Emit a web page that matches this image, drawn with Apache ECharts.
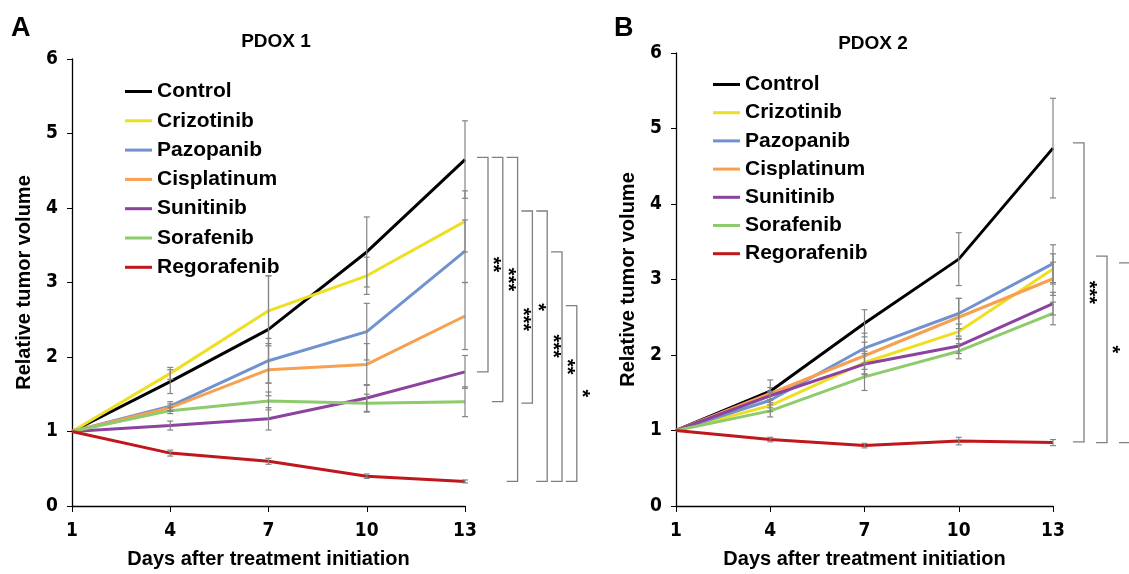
<!DOCTYPE html>
<html>
<head>
<meta charset="utf-8">
<script src="https://cdn.jsdelivr.net/npm/echarts@6/dist/echarts.min.js"></script>
<style>
  html, body { margin: 0; padding: 0; background: #fff; }
  #main { width: 1129px; height: 574px; }
</style>
</head>
<body>
<div id="main"></div>
<script>
// days after treatment initiation
var days = ["1", "4", "7", "10", "13"];
var yTicks = [0, 1, 2, 3, 4, 5, 6];
var groups = ["Control", "Crizotinib", "Pazopanib", "Cisplatinum", "Sunitinib", "Sorafenib", "Regorafenib"];
var colors = ["#000000", "#EEDF22", "#7093CF", "#F7A04F", "#8C429E", "#8DCB6C", "#C0171C"];

// PDOX 1 means
var p1Control     = [1, 1.67, 2.37, 3.41, 4.65];
var p1Crizotinib  = [1, 1.78, 2.62, 3.09, 3.82];
var p1Pazopanib   = [1, 1.34, 1.95, 2.34, 3.42];
var p1Cisplatinum = [1, 1.32, 1.83, 1.90, 2.55];
var p1Sunitinib   = [1, 1.08, 1.17, 1.45, 1.80];
var p1Sorafenib   = [1, 1.28, 1.41, 1.38, 1.40];
var p1Regorafenib = [1, 0.71, 0.60, 0.40, 0.33];
// PDOX 1 error bars
var p1ControlErr     = [0, 0.16, 0.72, 0.47, 0.52];
var p1CrizotinibErr  = [0, 0.08, 0.47, 0.25, 0.41];
var p1PazopanibErr   = [0, 0.06, 0.30, 0.38, 0.42];
var p1CisplatinumErr = [0, 0.05, 0.35, 0.28, 0.45];
var p1SunitinibErr   = [0, 0.06, 0.15, 0.18, 0.22];
var p1SorafenibErr   = [0, 0.04, 0.12, 0.12, 0.20];
var p1RegorafenibErr = [0, 0.04, 0.04, 0.03, 0.02];

// PDOX 2 means
var p2Control     = [1, 1.52, 2.42, 3.27, 4.74];
var p2Crizotinib  = [1, 1.33, 1.90, 2.31, 3.14];
var p2Pazopanib   = [1, 1.40, 2.09, 2.55, 3.21];
var p2Cisplatinum = [1, 1.49, 1.99, 2.50, 3.01];
var p2Sunitinib   = [1, 1.46, 1.88, 2.12, 2.68];
var p2Sorafenib   = [1, 1.26, 1.71, 2.05, 2.55];
var p2Regorafenib = [1, 0.88, 0.80, 0.86, 0.84];
// PDOX 2 error bars
var p2ControlErr     = [0, 0.15, 0.18, 0.35, 0.66];
var p2CrizotinibErr  = [0, 0.08, 0.15, 0.10, 0.20];
var p2PazopanibErr   = [0, 0.10, 0.20, 0.20, 0.25];
var p2CisplatinumErr = [0, 0.08, 0.18, 0.25, 0.22];
var p2SunitinibErr   = [0, 0.06, 0.14, 0.10, 0.15];
var p2SorafenibErr   = [0, 0.08, 0.18, 0.10, 0.15];
var p2RegorafenibErr = [0, 0.03, 0.03, 0.05, 0.04];

// significance brackets (day 13)
var p1BracketTop    = [4.68, 4.68, 4.68, 3.96, 3.96, 3.41, 2.69];
var p1BracketBottom = [1.80, 1.40, 0.33, 1.38, 0.33, 0.33, 0.33];
var p1BracketLabels = ["**", "***", "***", "*", "***", "**", "*"];
var p2BracketTop    = [4.81, 3.31, 3.22];
var p2BracketBottom = [0.85, 0.84, 0.84];
var p2BracketLabels = ["***", "*", "*"];

var p1Means = [p1Control, p1Crizotinib, p1Pazopanib, p1Cisplatinum, p1Sunitinib, p1Sorafenib, p1Regorafenib];
var p1Errs = [p1ControlErr, p1CrizotinibErr, p1PazopanibErr, p1CisplatinumErr, p1SunitinibErr, p1SorafenibErr, p1RegorafenibErr];
var p2Means = [p2Control, p2Crizotinib, p2Pazopanib, p2Cisplatinum, p2Sunitinib, p2Sorafenib, p2Regorafenib];
var p2Errs = [p2ControlErr, p2CrizotinibErr, p2PazopanibErr, p2CisplatinumErr, p2SunitinibErr, p2SorafenibErr, p2RegorafenibErr];

var myChart = echarts.init(document.getElementById("main"));

var narrow = "'DejaVu Sans Condensed', 'Liberation Sans Narrow', Arial, sans-serif";
var sans = "'Liberation Sans', Arial, sans-serif";

function xAxisOf(gi) {
  return {
    type: "category", gridIndex: gi, data: days, boundaryGap: false,
    name: "Days after treatment initiation", nameLocation: "middle", nameGap: 43,
    nameTextStyle: { fontFamily: sans, fontWeight: "bold", fontSize: 20, color: "#000" },
    axisLine: { lineStyle: { color: "#000", width: 1.3 } },
    axisTick: { alignWithLabel: true, length: 6, lineStyle: { color: "#000" } },
    axisLabel: { fontFamily: narrow, fontWeight: "bold", fontSize: 19, color: "#000", margin: 16 },
    splitLine: { show: false }
  };
}
function yAxisOf(gi) {
  return {
    type: "value", gridIndex: gi, min: 0, max: 6, interval: 1,
    name: "Relative tumor volume", nameLocation: "middle", nameGap: 38, nameRotate: 90,
    nameTextStyle: { fontFamily: sans, fontWeight: "bold", fontSize: 20, color: "#000" },
    axisLine: { show: true, lineStyle: { color: "#000", width: 1.3 } },
    axisTick: { show: true, length: 5, lineStyle: { color: "#000" } },
    axisLabel: { fontFamily: narrow, fontWeight: "bold", fontSize: 19, color: "#000", margin: 14,
      formatter: function (v) { return yTicks.indexOf(v) >= 0 ? String(v) : ""; } },
    splitLine: { show: false }
  };
}

function errorSeries(gi, means, errs) {
  var data = [];
  means.forEach(function (m, s) {
    m.forEach(function (v, i) {
      if (errs[s][i] > 0) data.push([i, v - errs[s][i], v + errs[s][i]]);
    });
  });
  return {
    type: "custom", xAxisIndex: gi, yAxisIndex: gi, z: 5, silent: true,
    data: data,
    renderItem: function (params, api) {
      var x = api.value(0);
      var top = api.coord([x, api.value(2)]);
      var bot = api.coord([x, api.value(1)]);
      var st = { stroke: "#858585", lineWidth: 1.2 };
      return {
        type: "group",
        children: [
          { type: "line", shape: { x1: top[0], y1: top[1], x2: bot[0], y2: bot[1] }, style: st },
          { type: "line", shape: { x1: top[0] - 3, y1: top[1], x2: top[0] + 3, y2: top[1] }, style: st },
          { type: "line", shape: { x1: bot[0] - 3, y1: bot[1], x2: bot[0] + 3, y2: bot[1] }, style: st }
        ]
      };
    }
  };
}

function bracketSeries(gi, tops, bots, labels, startOff, step) {
  return {
    type: "custom", xAxisIndex: gi, yAxisIndex: gi, z: 5, silent: true, clip: false,
    data: tops.map(function (t, i) { return [days.length - 1, t, bots[i]]; }),
    renderItem: function (params, api) {
      var i = params.dataIndex;
      var right = api.coord([api.value(0), 0])[0];
      var x0 = right + startOff + i * step;
      var x1 = x0 + 11;
      var yT = api.coord([api.value(0), api.value(1)])[1];
      var yB = api.coord([api.value(0), api.value(2)])[1];
      return {
        type: "group",
        children: [
          { type: "polyline", shape: { points: [[x0, yT], [x1, yT], [x1, yB], [x0, yB]] },
            style: { stroke: "#7f7f7f", lineWidth: 1.3, fill: null } },
          { type: "text", x: x1 + 5, y: (yT + yB) / 2, rotation: -Math.PI / 2,
            style: { text: labels[i], fill: "#000", font: "bold 20px " + sans, align: "center", verticalAlign: "middle" } }
        ]
      };
    }
  };
}

var series = [];
[p1Means, p2Means].forEach(function (means, gi) {
  means.forEach(function (vals, s) {
    series.push({
      type: "line", name: groups[s], data: vals, xAxisIndex: gi, yAxisIndex: gi,
      symbol: "none", lineStyle: { color: colors[s], width: 3 }, itemStyle: { color: colors[s] }, z: 3
    });
  });
});
series.push(errorSeries(0, p1Means, p1Errs));
series.push(errorSeries(1, p2Means, p2Errs));
series.push(bracketSeries(0, p1BracketTop, p1BracketBottom, p1BracketLabels, 12, 14.8));
series.push(bracketSeries(1, p2BracketTop, p2BracketBottom, p2BracketLabels, 20, 23));

var legendBase = {
  orient: "vertical", icon: "rect", itemWidth: 27, itemHeight: 3,
  textStyle: { fontFamily: sans, fontWeight: "bold", fontSize: 21, color: "#000", lineHeight: 21 },
  data: groups, selectedMode: false
};

myChart.setOption({
  animation: false,
  grid: [
    { left: 72, top: 59, width: 393, height: 449 },
    { left: 676, top: 53, width: 377, height: 459 }
  ],
  xAxis: [xAxisOf(0), xAxisOf(1)],
  yAxis: [yAxisOf(0), yAxisOf(1)],
  legend: [
    Object.assign({}, legendBase, { left: 120, top: 76, itemGap: 8.3 }),
    Object.assign({}, legendBase, { left: 708, top: 69, itemGap: 7.2 })
  ],
  graphic: [
    { type: "text", left: 11, top: 15, style: { text: "A", font: "bold 27px " + sans, fill: "#000" } },
    { type: "text", left: 614, top: 15, style: { text: "B", font: "bold 27px " + sans, fill: "#000" } },
    { type: "text", x: 276, y: 42, style: { text: "PDOX 1", font: "bold 19px " + sans, fill: "#000", align: "center", verticalAlign: "middle" } },
    { type: "text", x: 873, y: 44, style: { text: "PDOX 2", font: "bold 19px " + sans, fill: "#000", align: "center", verticalAlign: "middle" } }
  ],
  series: series
});
</script>
</body>
</html>
